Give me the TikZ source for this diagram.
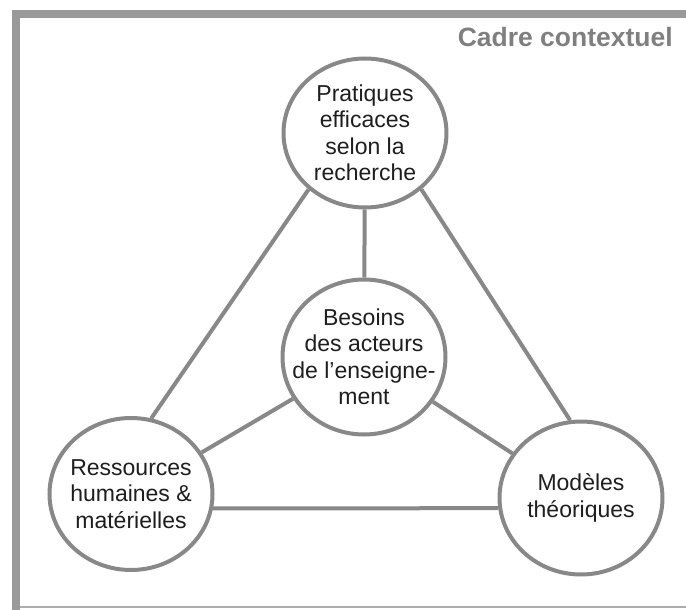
\documentclass[tikz,border=0pt]{standalone}
\usepackage{fontspec}
\setmainfont{Liberation Sans}
\usepackage{xcolor}
\usepackage{tikz}
\usetikzlibrary{shapes}

\definecolor{cadregray}{HTML}{999999}
\definecolor{titlegray}{HTML}{7F7F7F}
\definecolor{ringgray}{HTML}{888888}
\definecolor{textgray}{HTML}{1E1E1E}

\begin{document}
\begin{tikzpicture}[x=1pt,y=-1pt,
    bubble/.style={ellipse,draw=ringgray,line width=4pt,fill=white,
                   minimum width=163pt,minimum height=152pt,inner sep=0pt},
    bubbletext/.style={align=center,text=textgray,inner sep=0pt,
                       font=\fontsize{23}{26.5}\selectfont}]
            \useasboundingbox (0,0) rectangle (686,610);
            % cadre
            \draw[cadregray, line width=8pt] (16,610) -- (16,14.5) -- (686,14.5);
            \draw[cadregray!80, line width=1.5pt] (20,607) -- (686,607);
            \node[anchor=base east, inner sep=0pt, text=titlegray,
                  font=\fontsize{26.5}{30}\selectfont\bfseries] (CADRE) at (673,47) {Cadre contextuel};

            \begin{scope}
                \node[bubble, minimum height=149pt,
                      label={[bubbletext]center:Pratiques\\efficaces\\selon la\\recherche}] (PRAT) at (365,133) {};
                \node[bubble, minimum height=155pt,
                      label={[bubbletext]center:Besoins\\des acteurs\\de l’enseigne-\\ment}] (BESOINS) at (364,357) {};
                \node[bubble,
                      label={[bubbletext]center:Ressources\\humaines \&\\matérielles}] (RESS) at (131,494) {};
                \node[bubble, minimum height=153pt,
                      label={[bubbletext]center:Modèles\\théoriques}] (MODELES) at (581,498) {};
            \end{scope}

            \begin{scope}[every edge/.style={draw=ringgray, line width=4pt}]
                 \path (PRAT) edge (BESOINS);
                 \path (PRAT.225) edge (RESS.75);
                 \path (PRAT.-45) edge (MODELES.98);
                 \path (BESOINS) edge (RESS);
                 \path (BESOINS) edge (MODELES);
                 \path (RESS.-10) edge (MODELES.187);
            \end{scope}
\end{tikzpicture}
\end{document}
